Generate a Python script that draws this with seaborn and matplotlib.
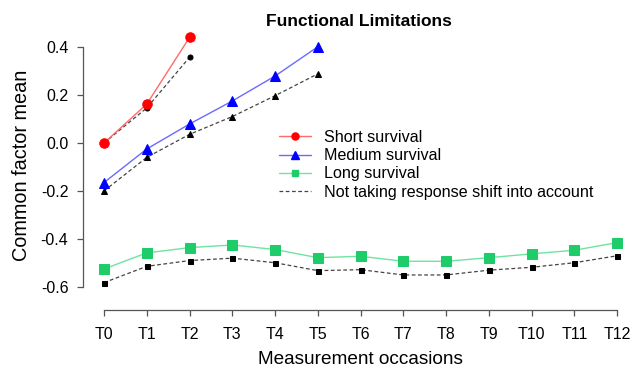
import numpy as np
import matplotlib
matplotlib.use("Agg")
import matplotlib.pyplot as plt
import pandas as pd
import seaborn as sns

# values
occasions = ["T0", "T1", "T2", "T3", "T4", "T5", "T6", "T7", "T8", "T9", "T10", "T11", "T12"]

short_rs = [0.0, 0.162, 0.44]
short_no = [0.0, 0.146, 0.357]

medium_rs = [-0.165, -0.025, 0.079, 0.175, 0.279, 0.401]
medium_no = [-0.200, -0.060, 0.036, 0.110, 0.197, 0.288]

long_rs = [-0.525, -0.458, -0.436, -0.425, -0.444, -0.478, -0.472,
           -0.493, -0.493, -0.478, -0.462, -0.447, -0.415]
long_no = [-0.582, -0.514, -0.490, -0.480, -0.499, -0.532, -0.528,
           -0.550, -0.550, -0.530, -0.518, -0.499, -0.470]

labels = ["Short survival", "Medium survival", "Long survival",
          "Not taking response shift into account"]

sns.set_style("ticks")
plt.rcParams["font.family"] = ["Liberation Sans", "DejaVu Sans"]
plt.rcParams["text.color"] = "black"
plt.rcParams["xtick.color"] = "#555555"
plt.rcParams["ytick.color"] = "#555555"
plt.rcParams["xtick.labelcolor"] = "black"
plt.rcParams["ytick.labelcolor"] = "black"

fig = plt.figure(figsize=(6.33, 3.68), dpi=100)
ax = fig.add_axes([83/633, 58/368, 550/633, 290/368])

# (series, no-shift series, marker, marker colour, line colour, size, small size)
groups = [
    (short_rs, short_no, "o", "#FF0000", "#FF6A6A", 6.8, 3.6),
    (medium_rs, medium_no, "^", "#0000FF", "#6A6AFF", 7.8, 4.4),
    (long_rs, long_no, "s", "#1ECC6A", "#6FE3A0", 6.6, 3.6),
]
handles = []
for rs, no, mk, col, lcol, ms, ms2 in groups:
    x = np.arange(len(rs))
    sns.lineplot(x=x, y=no, ax=ax, color="#444444", linestyle=(0, (3, 2)),
                 linewidth=0.9, marker=mk, markersize=ms2,
                 markerfacecolor="black", markeredgecolor="black")
    sns.lineplot(x=x, y=rs, ax=ax, color=lcol, linewidth=1.0,
                 marker=mk, markersize=ms, markerfacecolor=col,
                 markeredgecolor=col)
    handles.append(plt.Line2D([], [], color=lcol, linewidth=1.0, marker=mk,
                              markersize=ms * 0.75, markerfacecolor=col,
                              markeredgecolor=col))
handles.append(plt.Line2D([], [], color="#444444", linewidth=0.9,
                          linestyle=(0, (3, 2))))

ax.set_xlim(-0.491, 12.37)
ax.set_ylim(-0.696, 0.5125)
ax.set_xticks(range(len(occasions)))
ax.set_xticklabels(occasions, fontsize=11.5)
ax.set_yticks([-0.6, -0.4, -0.2, 0.0, 0.2, 0.4])
ax.set_yticklabels(["-0.6", "-0.4", "-0.2", "0.0", "0.2", "0.4"], fontsize=11.5)
for s in ["top", "right"]:
    ax.spines[s].set_visible(False)
ax.spines["left"].set_bounds(-0.6, 0.4)
ax.spines["bottom"].set_bounds(0, 12)
for s in ["left", "bottom"]:
    ax.spines[s].set_color("#555555")
    ax.spines[s].set_linewidth(0.9)
ax.tick_params(axis="x", length=4.5, width=0.9, pad=8)
ax.tick_params(axis="y", length=4.5, width=0.9, pad=6)

fig.text(359/633, 1 - 22/368, "Functional Limitations", ha="center",
         va="center", fontsize=12.5, fontweight="bold")
fig.text(360/633, 1 - 359/368, "Measurement occasions", ha="center",
         va="center", fontsize=13.7)
fig.text(22/633, 1 - 165/368, "Common factor mean", ha="center",
         va="center", rotation=90, fontsize=14.3)

ax.legend(handles, labels, loc="upper left", frameon=False,
          bbox_to_anchor=(279/633, 1 - 130/368), bbox_transform=fig.transFigure,
          fontsize=11.6, handlelength=2.0, handletextpad=0.8,
          labelspacing=0.2, borderpad=0, borderaxespad=0)

fig.savefig("out.png", dpi=100)
